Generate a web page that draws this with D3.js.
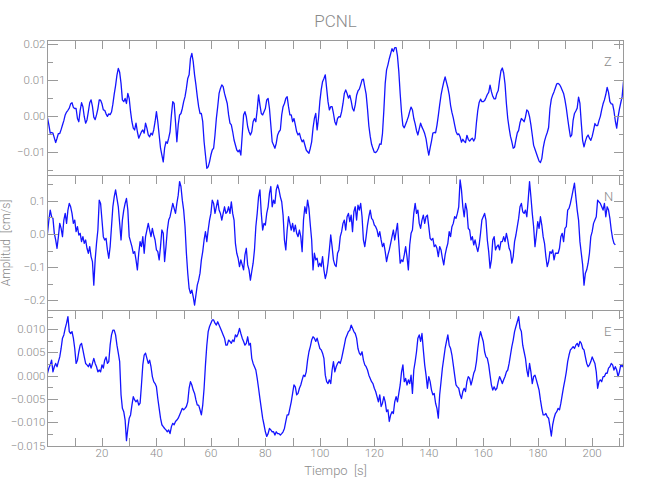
<!DOCTYPE html>
<html><head><meta charset="utf-8">
<script src="https://cdn.jsdelivr.net/npm/d3@7"></script>
<style>
body{margin:0;background:#fff}
text{font-family:Roboto,"DejaVu Sans",sans-serif;font-weight:300;fill:#8a8a8a;white-space:pre}
</style>
</head><body>
<svg id="c" width="650" height="500"></svg>
<script>
const title = "PCNL";
const xLabel = "Tiempo  [s]";
const yLabel = "Amplitud  [cm/s]";
const components = ["Z", "N", "E"];
const dt = 0.5; // sample interval (s)
const timeDomain = [0, 211.5];
const xTickValues = [10,20,30,40,50,60,70,80,90,100,110,120,130,140,150,160,170,180,190,200,210];
const xTickLabels = [20,40,60,80,100,120,140,160,180,200];

const zValues = [
-0.0005,-0.0025,-0.0048,-0.0046,-0.0048,-0.0061,-0.0074,-0.0062,-0.0049,-0.0049,
-0.0038,-0.0025,-0.0013,0.0003,0.0011,0.0016,0.0022,0.0034,0.0037,0.0024,
0.0021,0.0021,-0.0007,-0.0016,0.0016,0.0037,0.0026,-0.0002,-0.0020,-0.0011,
0.0012,0.0037,0.0045,0.0027,-0.0003,-0.0010,0.0003,0.0020,0.0045,0.0044,
0.0034,0.0017,0.0016,0.0006,-0.0001,0.0006,0.0004,0.0011,0.0033,0.0061,
0.0085,0.0114,0.0133,0.0122,0.0091,0.0045,0.0040,0.0049,0.0035,0.0063,
0.0049,0.0012,-0.0016,-0.0034,-0.0039,-0.0020,-0.0044,-0.0062,-0.0053,-0.0044,
-0.0039,-0.0048,-0.0020,-0.0034,-0.0053,-0.0058,-0.0048,-0.0053,-0.0039,-0.0016,
0.0012,-0.0016,-0.0053,-0.0090,-0.0109,-0.0128,-0.0090,-0.0072,-0.0076,-0.0062,
-0.0044,0.0003,0.0040,0.0035,-0.0016,-0.0072,-0.0025,0.0003,0.0007,0.0021,
0.0040,0.0054,0.0077,0.0105,0.0115,0.0161,0.0175,0.0152,0.0115,0.0087,
0.0054,0.0026,0.0007,0.0007,-0.0016,-0.0072,-0.0109,-0.0146,-0.0142,-0.0128,
-0.0109,-0.0095,-0.0090,-0.0053,-0.0007,0.0026,0.0063,0.0077,0.0087,0.0082,
0.0063,0.0049,0.0035,0.0003,-0.0020,-0.0025,-0.0044,-0.0067,-0.0081,-0.0095,
-0.0100,-0.0095,-0.0109,-0.0053,0.0003,0.0012,-0.0002,-0.0030,-0.0044,-0.0053,
-0.0044,-0.0016,-0.0007,-0.0016,0.0017,0.0059,0.0031,0.0007,0.0003,0.0012,
0.0021,0.0045,0.0049,0.0021,-0.0025,-0.0072,-0.0081,-0.0090,-0.0076,-0.0053,
-0.0044,-0.0039,0.0003,0.0026,0.0035,0.0049,0.0054,0.0026,0.0003,0.0003,
-0.0016,-0.0007,-0.0025,-0.0044,-0.0053,-0.0048,-0.0062,-0.0072,-0.0067,-0.0081,
-0.0095,-0.0100,-0.0104,-0.0090,-0.0072,-0.0034,-0.0007,0.0007,-0.0039,-0.0007,
0.0040,0.0073,0.0096,0.0105,0.0115,0.0077,0.0040,0.0017,0.0026,0.0026,
0.0007,-0.0016,-0.0025,-0.0007,-0.0002,
-0.0003,0.0012,0.0035,0.0063,0.0073,0.0063,0.0050,0.0058,0.0042,0.0021,
0.0014,0.0031,0.0058,0.0070,0.0075,0.0087,0.0101,0.0103,0.0081,0.0061,
0.0020,-0.0028,-0.0057,-0.0079,-0.0091,-0.0101,-0.0102,-0.0098,-0.0090,-0.0078,
-0.0079,-0.0049,0.0015,0.0091,0.0129,0.0143,0.0160,0.0174,0.0188,0.0180,
0.0191,0.0191,0.0168,0.0124,0.0062,0.0009,-0.0027,-0.0033,-0.0023,-0.0013,
-0.0002,0.0013,0.0025,0.0017,-0.0007,-0.0022,-0.0041,-0.0053,-0.0036,-0.0020,
-0.0031,-0.0039,-0.0049,-0.0064,-0.0089,-0.0109,-0.0089,-0.0070,-0.0048,-0.0046,
-0.0047,-0.0026,0.0001,0.0031,0.0058,0.0078,0.0095,0.0109,0.0094,0.0079,
0.0060,0.0030,0.0010,-0.0005,-0.0025,-0.0043,-0.0052,-0.0050,-0.0058,-0.0073,
-0.0065,-0.0071,-0.0074,-0.0054,-0.0065,-0.0070,-0.0065,-0.0062,-0.0070,-0.0062,
-0.0019,0.0016,0.0038,0.0047,0.0040,0.0040,0.0043,0.0051,0.0060,0.0066,
0.0086,0.0068,0.0055,0.0048,0.0048,0.0063,0.0071,0.0101,0.0126,0.0134,
0.0120,0.0089,0.0035,-0.0007,-0.0034,-0.0057,-0.0072,-0.0090,-0.0087,-0.0066,
-0.0047,-0.0040,-0.0019,-0.0007,-0.0011,-0.0016,-0.0003,0.0017,0.0013,-0.0002,
-0.0025,-0.0053,-0.0082,-0.0093,-0.0104,-0.0115,-0.0126,-0.0130,-0.0119,-0.0090,
-0.0070,-0.0057,-0.0046,-0.0032,0.0021,0.0047,0.0059,0.0068,0.0079,0.0090,
0.0091,0.0088,0.0081,0.0072,0.0063,0.0045,0.0022,-0.0007,-0.0034,-0.0058,
-0.0053,-0.0012,0.0007,0.0014,0.0022,0.0053,0.0035,-0.0020,-0.0069,-0.0086,
-0.0071,-0.0059,-0.0053,-0.0062,-0.0068,-0.0057,-0.0040,-0.0021,-0.0027,-0.0027,
-0.0013,-0.0001,0.0018,0.0034,0.0045,0.0060,0.0080,0.0066,0.0040,0.0034,
0.0033,0.0014,-0.0014,-0.0034,-0.0003,0.0019,0.0037,0.0054,0.0096
];

const nValues = [
0.002,0.042,0.072,0.052,0.047,0.002,-0.018,-0.043,-0.008,0.032,
0.017,-0.008,0.042,0.062,0.032,0.072,0.092,0.082,0.062,0.032,
0.042,0.007,0.022,-0.003,0.002,-0.023,-0.008,-0.028,-0.018,-0.043,
-0.058,-0.038,-0.068,-0.083,-0.154,-0.078,-0.028,0.012,0.102,0.092,
0.042,-0.008,-0.018,-0.013,-0.048,-0.073,-0.038,0.022,0.082,0.112,
0.133,0.107,0.082,0.032,-0.018,0.042,0.072,0.092,0.107,0.072,
-0.008,-0.023,-0.038,-0.058,-0.053,-0.078,-0.108,-0.058,-0.023,-0.038,
-0.008,-0.058,-0.008,0.012,0.032,0.012,-0.008,0.017,-0.003,-0.018,
-0.048,-0.053,-0.078,-0.038,0.012,0.002,-0.083,-0.038,0.012,0.042,
0.052,0.072,0.092,0.077,0.062,0.092,0.117,0.158,0.143,0.102,
0.072,0.022,-0.058,-0.118,-0.164,-0.179,-0.169,-0.189,-0.214,-0.184,
-0.154,-0.139,-0.118,-0.078,-0.053,-0.018,0.007,-0.023,0.012,0.042,
0.062,0.102,0.092,0.062,0.082,0.102,0.072,0.062,0.042,0.062,
0.082,0.062,0.067,0.082,0.062,0.097,0.062,0.042,-0.028,-0.058,
-0.073,-0.098,-0.078,-0.093,-0.108,-0.063,-0.043,-0.093,-0.108,-0.139,
-0.113,-0.088,-0.048,0.022,0.062,0.112,0.133,0.062,0.012,0.032,
0.027,0.062,0.082,0.122,0.143,0.082,0.102,0.092,0.133,0.148,
0.133,0.112,0.097,0.057,-0.018,-0.048,0.012,0.052,0.032,0.012,
0.032,0.007,0.027,0.002,-0.008,0.012,-0.008,-0.053,0.042,0.082,
0.062,0.102,0.077,0.027,-0.018,-0.108,-0.058,-0.078,-0.073,-0.098,
-0.088,-0.098,-0.068,-0.108,-0.134,-0.118,-0.088,-0.048,-0.003,-0.038,
-0.078,-0.093,-0.098,-0.058,-0.048,
-0.008,0.007,0.032,0.042,0.012,0.052,0.062,0.037,0.057,0.007,
0.067,0.082,0.042,0.087,0.072,0.092,0.052,-0.018,-0.038,-0.008,
0.027,0.052,0.072,0.047,0.042,0.027,0.022,0.012,-0.008,0.007,
-0.018,-0.038,-0.028,-0.053,-0.083,-0.063,-0.048,-0.028,-0.008,0.012,
-0.018,0.007,0.032,-0.028,-0.088,-0.078,-0.083,-0.063,-0.038,-0.068,
-0.108,-0.033,0.002,0.012,0.062,0.092,0.062,0.072,0.032,0.017,
0.042,0.057,0.032,0.052,0.057,0.022,-0.013,-0.018,-0.013,-0.038,
-0.033,-0.043,-0.068,-0.038,-0.048,-0.073,-0.093,-0.063,-0.043,-0.028,
0.007,-0.008,0.022,0.032,0.052,0.047,0.062,0.082,0.163,0.133,
0.082,0.052,0.092,0.072,0.017,0.012,-0.018,-0.008,-0.033,-0.018,
-0.038,-0.053,-0.033,0.002,0.042,0.052,0.062,0.042,-0.018,-0.053,
-0.103,-0.078,-0.018,-0.008,-0.048,-0.038,-0.033,-0.048,-0.023,-0.023,
-0.008,-0.023,0.002,-0.018,-0.043,-0.053,-0.088,-0.068,-0.023,-0.003,
0.022,0.047,0.082,0.092,0.067,0.062,0.072,0.052,0.102,0.158,
0.112,0.062,0.022,-0.038,-0.003,0.037,0.017,0.052,0.027,-0.008,
-0.028,-0.068,-0.098,-0.083,-0.053,-0.058,-0.048,-0.078,-0.058,-0.058,
-0.058,-0.043,-0.008,0.002,-0.023,0.017,0.022,0.072,0.077,0.092,
0.112,0.133,0.153,0.112,0.072,0.042,-0.023,-0.058,-0.093,-0.154,
-0.118,-0.108,-0.088,-0.058,-0.008,0.007,0.032,0.042,0.052,0.102,
0.097,0.092,0.082,0.072,0.092,0.052,0.082,0.072,0.047,0.012,
-0.013,-0.028,-0.033
];

const eValues = [
0.0005,0.0016,0.0023,0.0033,0.0008,0.0019,0.0026,0.0019,0.0030,0.0040,
0.0058,0.0080,0.0087,0.0101,0.0112,0.0126,0.0094,0.0090,0.0094,0.0080,
0.0058,0.0026,0.0033,0.0051,0.0065,0.0069,0.0055,0.0040,0.0026,0.0023,
0.0019,0.0026,0.0016,0.0026,0.0037,0.0026,0.0019,0.0008,0.0012,0.0008,
0.0023,0.0016,0.0033,0.0040,0.0026,0.0030,0.0065,0.0087,0.0097,0.0097,
0.0087,0.0065,0.0048,0.0030,-0.0041,-0.0070,-0.0077,-0.0095,-0.0139,-0.0113,
-0.0091,-0.0084,-0.0063,-0.0045,-0.0052,-0.0056,-0.0052,-0.0063,-0.0059,-0.0020,
0.0023,0.0044,0.0048,0.0037,0.0026,0.0033,0.0019,-0.0002,-0.0013,-0.0017,
-0.0024,-0.0049,-0.0070,-0.0091,-0.0105,-0.0109,-0.0113,-0.0116,-0.0120,-0.0116,
-0.0124,-0.0109,-0.0102,-0.0105,-0.0098,-0.0095,-0.0091,-0.0084,-0.0077,-0.0070,
-0.0073,-0.0070,-0.0066,-0.0056,-0.0027,-0.0013,-0.0020,-0.0031,-0.0038,-0.0052,
-0.0063,-0.0063,-0.0073,-0.0084,-0.0063,-0.0027,0.0023,0.0065,0.0094,0.0105,
0.0112,0.0119,0.0119,0.0112,0.0108,0.0115,0.0108,0.0101,0.0094,0.0087,
0.0080,0.0065,0.0065,0.0076,0.0073,0.0069,0.0076,0.0073,0.0087,0.0083,
0.0090,0.0101,0.0090,0.0080,0.0073,0.0065,0.0069,0.0083,0.0065,0.0069,
0.0037,0.0026,0.0019,0.0012,-0.0006,-0.0027,-0.0049,-0.0070,-0.0091,-0.0105,
-0.0120,-0.0130,-0.0124,-0.0113,-0.0116,-0.0120,-0.0120,-0.0127,-0.0120,-0.0124,
-0.0124,-0.0127,-0.0124,-0.0120,-0.0113,-0.0098,-0.0084,-0.0084,-0.0070,-0.0056,
-0.0038,-0.0020,-0.0024,-0.0041,-0.0038,-0.0027,-0.0020,-0.0009,0.0001,-0.0002,
0.0008,0.0033,0.0051,0.0062,0.0076,0.0083,0.0080,0.0073,0.0080,0.0069,
0.0058,0.0055,0.0048,0.0037,0.0001,-0.0013,-0.0017,-0.0009,-0.0017,0.0012,
0.0030,0.0008,0.0019,0.0026,0.0030,
0.0026,0.0037,0.0051,0.0065,0.0080,0.0087,0.0094,0.0097,0.0108,0.0101,
0.0094,0.0090,0.0080,0.0058,0.0048,0.0044,0.0051,0.0033,0.0023,0.0019,
0.0012,0.0001,-0.0006,-0.0013,-0.0017,-0.0027,-0.0034,-0.0045,-0.0056,-0.0041,
-0.0066,-0.0059,-0.0045,-0.0056,-0.0077,-0.0073,-0.0098,-0.0084,-0.0077,-0.0081,
-0.0056,-0.0045,-0.0056,-0.0038,-0.0020,0.0008,0.0023,-0.0013,-0.0006,-0.0020,
-0.0009,-0.0017,0.0001,-0.0038,0.0012,0.0030,0.0051,0.0080,0.0087,0.0073,
0.0090,0.0055,0.0023,0.0001,-0.0027,-0.0002,-0.0013,-0.0031,-0.0041,-0.0038,
-0.0059,-0.0070,-0.0091,-0.0041,-0.0013,0.0016,0.0037,0.0058,0.0073,0.0087,
0.0065,0.0058,0.0044,0.0023,0.0001,-0.0020,-0.0024,-0.0027,-0.0041,-0.0049,
-0.0034,-0.0027,-0.0034,-0.0013,-0.0002,-0.0006,-0.0020,-0.0009,0.0005,0.0012,
0.0030,0.0058,0.0080,0.0094,0.0083,0.0073,0.0051,0.0040,0.0037,0.0023,
0.0001,-0.0020,-0.0031,-0.0024,-0.0031,-0.0027,-0.0013,-0.0002,-0.0009,-0.0017,
-0.0009,-0.0002,0.0008,0.0012,0.0026,0.0044,0.0062,0.0076,0.0094,0.0105,
0.0115,0.0126,0.0101,0.0094,0.0065,0.0051,0.0037,0.0012,-0.0002,0.0026,
0.0008,-0.0017,-0.0002,0.0001,-0.0009,-0.0020,-0.0031,-0.0052,-0.0070,-0.0084,
-0.0084,-0.0081,-0.0088,-0.0091,-0.0109,-0.0129,-0.0105,-0.0091,-0.0081,-0.0077,
-0.0070,-0.0073,-0.0059,-0.0041,-0.0024,-0.0009,0.0008,0.0030,0.0044,0.0055,
0.0058,0.0062,0.0058,0.0065,0.0069,0.0062,0.0073,0.0069,0.0058,0.0055,
0.0040,0.0026,0.0019,0.0023,0.0030,0.0040,0.0033,0.0026,0.0008,-0.0027,
-0.0013,-0.0009,-0.0013,-0.0002,-0.0002,0.0005,0.0005,0.0016,0.0019,0.0026,
0.0023,0.0012,0.0019,0.0012,-0.0002,0.0008,0.0023,0.0019,0.0026
];

const zDomain = [-0.01648, 0.02123];
const nDomain = [-0.2289, 0.1777];
const eDomain = [-0.01504, 0.01402];
const zMajor = [-0.01, 0, 0.01, 0.02];
const zMinor = [-0.015, -0.005, 0.005, 0.015];
const nMajor = [-0.2, -0.1, 0, 0.1];
const nMinor = [-0.15, -0.05, 0.05, 0.15];
const eMajor = [-0.015, -0.010, -0.005, 0, 0.005, 0.010];
const eMinor = [-0.0125, -0.0075, -0.0025, 0.0025, 0.0075, 0.0125];

const panels = [
  {name: components[0], values: zValues, domain: zDomain, major: zMajor, minor: zMinor, fmt: ".2f", top: 40, bottom: 175},
  {name: components[1], values: nValues, domain: nDomain, major: nMajor, minor: nMinor, fmt: ".1f", top: 175, bottom: 310},
  {name: components[2], values: eValues, domain: eDomain, major: eMajor, minor: eMinor, fmt: ".3f", top: 310, bottom: 446}
];

const svg = d3.select("#c");
svg.append("rect").attr("width", 650).attr("height", 500).attr("fill", "#fff");
const left = 47.5, right = 623.5;
const x = d3.scaleLinear().domain(timeDomain).range([left, right]);
const axisColor = "#9a9a9a";
const fmtMinus = s => s.replace("-", "\u2212");

panels.forEach((p, pi) => {
  const y = d3.scaleLinear().domain(p.domain).range([p.bottom, p.top]);
  const g = svg.append("g");
  const clipId = "clip" + pi;
  svg.append("clipPath").attr("id", clipId).append("rect")
    .attr("x", left).attr("y", p.top).attr("width", right - left).attr("height", p.bottom - p.top);
  const line = d3.line().x((d, i) => x(i * dt)).y(d => y(d));
  g.append("path").datum(p.values).attr("clip-path", `url(#${clipId})`)
    .attr("d", line).attr("fill", "none").attr("stroke", "#1414ff")
    .attr("stroke-width", 1.3).attr("stroke-linejoin", "round");

  g.append("rect").attr("x", left).attr("y", p.top + 0.5).attr("width", right - left)
    .attr("height", p.bottom - p.top).attr("fill", "none").attr("stroke", axisColor)
    .attr("stroke-width", 1).attr("shape-rendering", "crispEdges");

  const tickG = g.append("g").attr("stroke", axisColor).attr("stroke-width", 1).attr("shape-rendering", "crispEdges");
  xTickValues.forEach(t => {
    const xx = Math.round(x(t)) + 0.5;
    tickG.append("line").attr("x1", xx).attr("x2", xx).attr("y1", p.top).attr("y2", p.top + 8.5);
    if (pi === panels.length - 1)
      tickG.append("line").attr("x1", xx).attr("x2", xx).attr("y1", p.bottom).attr("y2", p.bottom - 8);
  });
  const yTick = (v, len) => {
    const yy = Math.round(y(v)) + 0.5;
    tickG.append("line").attr("x1", left).attr("x2", left + len).attr("y1", yy).attr("y2", yy);
    tickG.append("line").attr("x1", right).attr("x2", right - len).attr("y1", yy).attr("y2", yy);
  };
  p.major.forEach(v => yTick(v, 10));
  p.minor.forEach(v => yTick(v, 5));

  const f = d3.format(p.fmt);
  p.major.forEach(v => {
    g.append("text").attr("x", left - 2).attr("y", y(v) + 4)
      .attr("text-anchor", "end").attr("font-size", 11.5).text(fmtMinus(f(v)));
  });
  g.append("text").attr("x", 604).attr("y", p.top + 26).attr("font-size", 13).text(p.name);
});

xTickLabels.forEach(t => {
  svg.append("text").attr("x", x(t)).attr("y", 457).attr("text-anchor", "middle")
    .attr("font-size", 11.5).text(t);
});
svg.append("text").attr("x", (left + right) / 2).attr("y", 475).attr("text-anchor", "middle")
  .attr("font-size", 13).text(xLabel);
svg.append("text").attr("transform", "translate(10,243) rotate(-90)").attr("text-anchor", "middle")
  .attr("font-size", 12).text(yLabel);
svg.append("text").attr("x", (left + right) / 2).attr("y", 27).attr("text-anchor", "middle")
  .attr("font-size", 17).text(title);
</script>
</body></html>
